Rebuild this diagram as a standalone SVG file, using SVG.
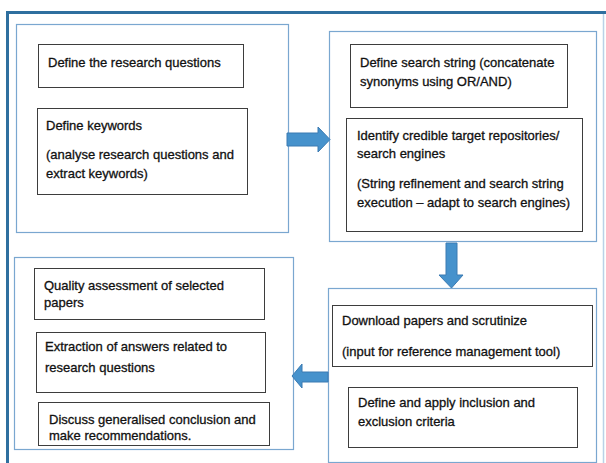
<svg xmlns="http://www.w3.org/2000/svg" width="606" height="463" viewBox="0 0 606 463">
<style>
.container{fill:#ffffff;stroke:#7aa7d0;stroke-width:1.2}
.box{fill:#ffffff;stroke:#3d3d3d;stroke-width:1}
.t{font-family:"Liberation Sans",Arial,sans-serif;font-size:13px;fill:#111111;stroke:#111111;stroke-width:0.3}
.arrow{fill:#4692cc;stroke:#3a7ab2;stroke-width:1}
</style>
<rect x="0" y="0" width="606" height="463" fill="#ffffff"/>
<g id="frame">
<path d="M7.5,463 V12.5 H606" fill="none" stroke="#2f6f9f" stroke-width="3"/>
<line x1="603.5" y1="14" x2="603.5" y2="463" stroke="#b9d2e7" stroke-width="1.5"/>
</g>
<g id="group-top-left">
<rect class="container" x="16.5" y="24.5" width="272" height="208"/>
</g>
<g id="node-research-questions">
<rect class="box" x="38.5" y="44.5" width="205" height="43"/>
<text class="t" x="48" y="66.5">Define the research questions</text>
</g>
<g id="node-keywords">
<rect class="box" x="37.5" y="108.5" width="210" height="86"/>
<text class="t" x="46" y="130">Define keywords</text>
<text class="t" x="46" y="158.5">(analyse research questions and</text>
<text class="t" x="46" y="178">extract keywords)</text>
</g>
<g id="group-top-right">
<rect class="container" x="329.5" y="31.5" width="267" height="210"/>
</g>
<g id="node-search-string">
<rect class="box" x="350.5" y="44.5" width="217" height="63"/>
<text class="t" x="360" y="66.5">Define search string (concatenate</text>
<text class="t" x="360" y="86">synonyms using OR/AND)</text>
</g>
<g id="node-repositories">
<rect class="box" x="346.5" y="118.5" width="236" height="113"/>
<text class="t" x="357" y="140">Identify credible target repositories/</text>
<text class="t" x="357" y="158">search engines</text>
<text class="t" x="357" y="188">(String refinement and search string</text>
<text class="t" x="357" y="207">execution – adapt to search engines)</text>
</g>
<g id="group-bottom-right">
<rect class="container" x="328.5" y="288.5" width="268" height="174"/>
</g>
<g id="node-download">
<rect class="box" x="332.5" y="305.5" width="260" height="61"/>
<text class="t" x="342" y="324.5">Download papers and scrutinize</text>
<text class="t" x="342" y="356">(input for reference management tool)</text>
</g>
<g id="node-criteria">
<rect class="box" x="348.5" y="387.5" width="229" height="60"/>
<text class="t" x="358" y="406.5">Define and apply inclusion and</text>
<text class="t" x="358" y="426">exclusion criteria</text>
</g>
<g id="group-bottom-left">
<rect class="container" x="14.5" y="257.5" width="279" height="192"/>
</g>
<g id="node-quality">
<rect class="box" x="34.5" y="268.5" width="230" height="51"/>
<text class="t" x="44" y="289.5">Quality assessment of selected</text>
<text class="t" x="44" y="306.5">papers</text>
</g>
<g id="node-extraction">
<rect class="box" x="36.5" y="332.5" width="229" height="60"/>
<text class="t" x="45" y="351">Extraction of answers related to</text>
<text class="t" x="45" y="372">research questions</text>
</g>
<g id="node-discuss">
<rect class="box" x="38.5" y="402.5" width="231" height="43"/>
<text class="t" x="49" y="424">Discuss generalised conclusion and</text>
<text class="t" x="49" y="440">make recommendations.</text>
</g>
<g id="connectors">
<path class="arrow" d="M287,133 H318 V127 L330,139.5 L318,152 V146 H287 Z"/>
<path class="arrow" d="M446,243 H457 V275 H463 L451.5,288 L439,275 H446 Z"/>
<path class="arrow" d="M328,372 H302 V364 L292,376 L302,388 V382 H328 Z"/>
</g>
</svg>
